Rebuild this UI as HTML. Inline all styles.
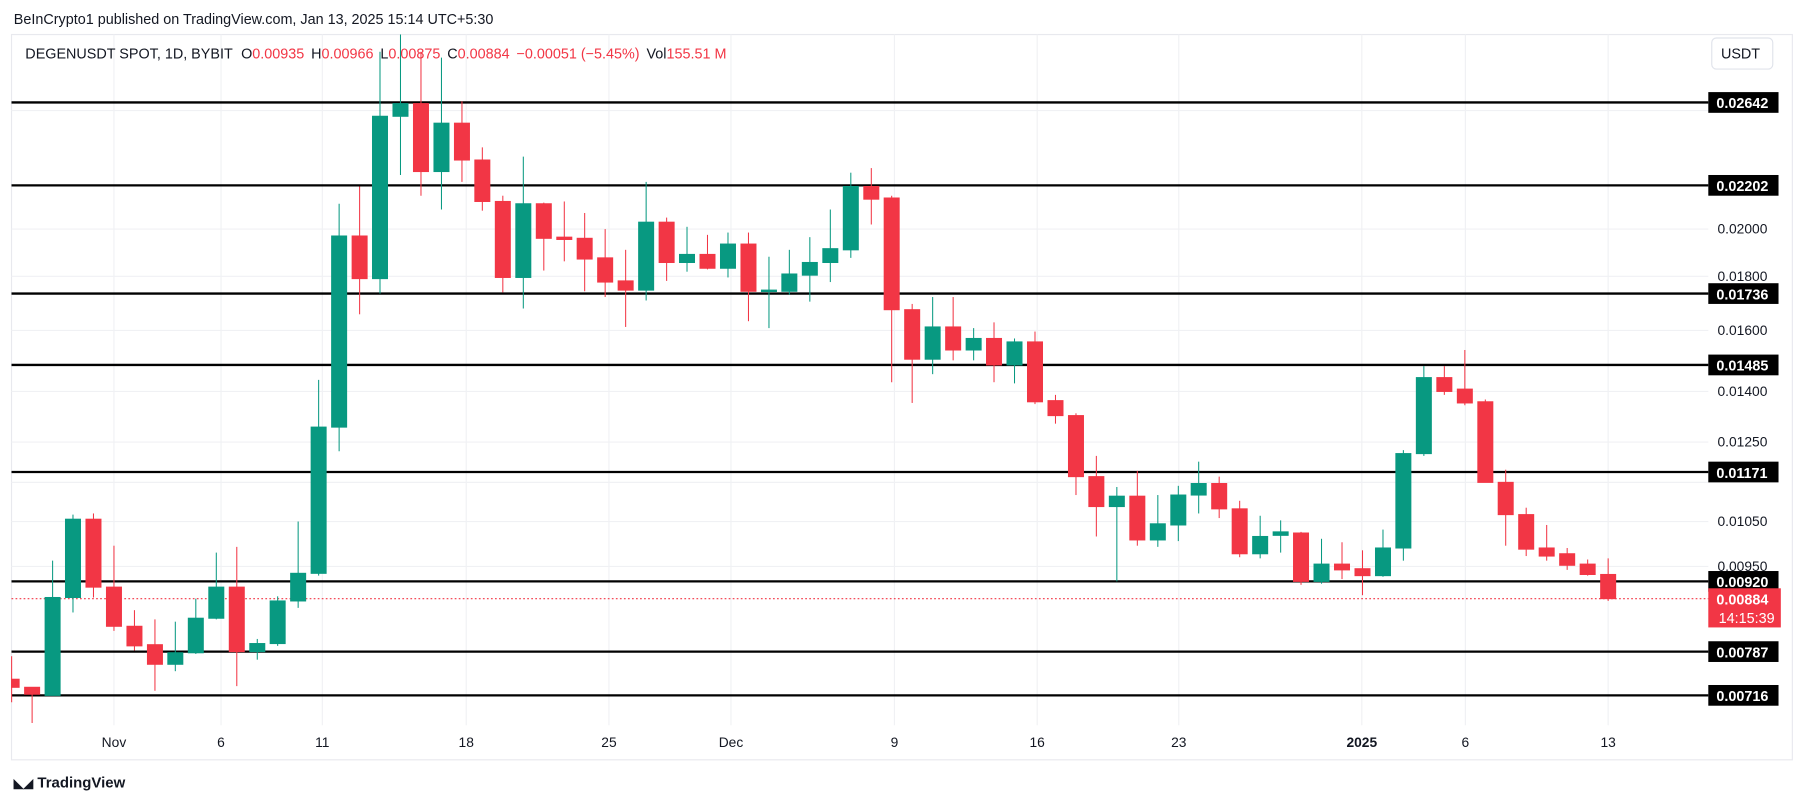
<!DOCTYPE html>
<html><head><meta charset="utf-8"><style>html,body{margin:0;padding:0;background:#fff;overflow:hidden}svg{display:block}</style></head><body>
<svg width="1805" height="803" viewBox="0 0 1568 697.5" preserveAspectRatio="none" xmlns="http://www.w3.org/2000/svg" font-family="Liberation Sans, sans-serif">
<rect width="1568" height="697.5" fill="#fff"/>
<text x="12" y="21" font-size="12.5" fill="#131722">BeInCrypto1 published on TradingView.com, Jan 13, 2025 15:14 UTC+5:30</text>
<rect x="10" y="30" width="1547" height="630" fill="none" stroke="#e8e9ee" stroke-width="1"/>
<g stroke="#f0f1f4" stroke-width="1">
<line x1="99" y1="30" x2="99" y2="630"/><line x1="192" y1="30" x2="192" y2="630"/><line x1="280" y1="30" x2="280" y2="630"/><line x1="405" y1="30" x2="405" y2="630"/><line x1="529" y1="30" x2="529" y2="630"/><line x1="635" y1="30" x2="635" y2="630"/><line x1="777" y1="30" x2="777" y2="630"/><line x1="901" y1="30" x2="901" y2="630"/><line x1="1024" y1="30" x2="1024" y2="630"/><line x1="1183" y1="30" x2="1183" y2="630"/><line x1="1273" y1="30" x2="1273" y2="630"/><line x1="1397" y1="30" x2="1397" y2="630"/>
<line x1="10" y1="96" x2="1484" y2="96"/><line x1="10" y1="199" x2="1484" y2="199"/><line x1="10" y1="240" x2="1484" y2="240"/><line x1="10" y1="287" x2="1484" y2="287"/><line x1="10" y1="340" x2="1484" y2="340"/><line x1="10" y1="384" x2="1484" y2="384"/><line x1="10" y1="419" x2="1484" y2="419"/><line x1="10" y1="453" x2="1484" y2="453"/><line x1="10" y1="492" x2="1484" y2="492"/>
</g>
<text x="22" y="51" font-size="12.5" fill="#131722">DEGENUSDT SPOT, 1D, BYBIT <tspan dx="4">O</tspan><tspan fill="#f23645">0.00935</tspan><tspan dx="6">H</tspan><tspan fill="#f23645">0.00966</tspan><tspan dx="6">L</tspan><tspan fill="#f23645">0.00875</tspan><tspan dx="6">C</tspan><tspan fill="#f23645">0.00884</tspan><tspan dx="6" fill="#f23645">−0.00051 (−5.45%)</tspan><tspan dx="6">Vol</tspan><tspan fill="#f23645">155.51 M</tspan></text>
<rect x="1487" y="33" width="53" height="27" rx="4" fill="#fff" stroke="#e0e3eb"/>
<text x="1495" y="51" font-size="12.5" fill="#131722">USDT</text>
<g stroke="#000" stroke-width="2">
<line x1="10" y1="89" x2="1484" y2="89"/><line x1="10" y1="161" x2="1484" y2="161"/><line x1="10" y1="255" x2="1484" y2="255"/><line x1="10" y1="317" x2="1484" y2="317"/><line x1="10" y1="410" x2="1484" y2="410"/><line x1="10" y1="505" x2="1484" y2="505"/><line x1="10" y1="566" x2="1484" y2="566"/><line x1="10" y1="604" x2="1484" y2="604"/>
</g>
<line x1="10" y1="520" x2="1484" y2="520" stroke="#f23645" stroke-width="1" stroke-dasharray="1.5,2"/>
<g font-size="12" fill="#131722">
<text x="1492" y="203">0.02000</text><text x="1492" y="244">0.01800</text><text x="1492" y="291">0.01600</text><text x="1492" y="344">0.01400</text><text x="1492" y="388">0.01250</text><text x="1492" y="457">0.01050</text><text x="1492" y="496">0.00950</text>
</g>
<g font-size="12.5" font-weight="bold" fill="#fff">
<rect x="1484" y="80" width="61" height="18" fill="#000"/><text x="1491" y="94">0.02642</text>
<rect x="1484" y="152" width="61" height="18" fill="#000"/><text x="1491" y="166">0.02202</text>
<rect x="1484" y="246" width="61" height="18" fill="#000"/><text x="1491" y="260">0.01736</text>
<rect x="1484" y="308" width="61" height="18" fill="#000"/><text x="1491" y="322">0.01485</text>
<rect x="1484" y="401" width="61" height="18" fill="#000"/><text x="1491" y="415">0.01171</text>
<rect x="1484" y="496" width="61" height="18" fill="#000"/><text x="1491" y="510">0.00920</text>
<rect x="1484" y="557" width="61" height="18" fill="#000"/><text x="1491" y="571">0.00787</text>
<rect x="1484" y="595" width="61" height="18" fill="#000"/><text x="1491" y="609">0.00716</text>
<rect x="1484" y="511" width="63" height="34" fill="#f23645"/><text x="1491" y="525">0.00884</text><text x="1493" y="541" font-weight="normal">14:15:39</text>
</g>
<g font-size="12" fill="#131722" text-anchor="middle">
<text x="99" y="649">Nov</text><text x="192" y="649">6</text><text x="280" y="649">11</text><text x="405" y="649">18</text><text x="529" y="649">25</text><text x="635" y="649">Dec</text><text x="777" y="649">9</text><text x="901" y="649">16</text><text x="1024" y="649">23</text><text x="1183" y="649" font-weight="bold">2025</text><text x="1273" y="649">6</text><text x="1397" y="649">13</text>
</g>
<text x="12" y="684" font-size="13" font-weight="bold" fill="#131722"><tspan font-size="11">◣◢</tspan> TradingView</text>
<g stroke-width="0.9">
<g stroke="#f23645" fill="#f23645">
<line x1="10.1" y1="570" x2="10.1" y2="610"/><rect x="10" y="590" width="6.6" height="7"/>
<line x1="27.9" y1="597" x2="27.9" y2="628"/><rect x="21.4" y="597" width="13" height="6"/>
<line x1="81.2" y1="446" x2="81.2" y2="519"/><rect x="74.7" y="451" width="13" height="59"/>
<line x1="99" y1="474" x2="99" y2="548"/><rect x="92.5" y="510" width="13" height="34"/>
<line x1="116.8" y1="530" x2="116.8" y2="565"/><rect x="110.3" y="544" width="13" height="17"/>
<line x1="134.6" y1="538" x2="134.6" y2="600"/><rect x="128.1" y="560" width="13" height="17"/>
<line x1="205.7" y1="475" x2="205.7" y2="596"/><rect x="199.2" y="510" width="13" height="56"/>
<line x1="312.4" y1="162" x2="312.4" y2="273"/><rect x="305.9" y="205" width="13" height="37"/>
<line x1="365.7" y1="45" x2="365.7" y2="170"/><rect x="359.2" y="90" width="13" height="59"/>
<line x1="401.3" y1="88" x2="401.3" y2="158"/><rect x="394.8" y="107" width="13" height="32"/>
<line x1="419" y1="128" x2="419" y2="183"/><rect x="412.5" y="139" width="13" height="36"/>
<line x1="436.8" y1="170" x2="436.8" y2="254"/><rect x="430.3" y="175" width="13" height="66"/>
<line x1="472.4" y1="176" x2="472.4" y2="235"/><rect x="465.9" y="177" width="13" height="30"/>
<line x1="490.2" y1="175" x2="490.2" y2="227"/><rect x="483.7" y="206" width="13" height="2"/>
<line x1="507.9" y1="185" x2="507.9" y2="253"/><rect x="501.4" y="207" width="13" height="18"/>
<line x1="525.7" y1="199" x2="525.7" y2="258"/><rect x="519.2" y="224" width="13" height="21"/>
<line x1="543.5" y1="217" x2="543.5" y2="284"/><rect x="537" y="244" width="13" height="8"/>
<line x1="579.1" y1="189" x2="579.1" y2="244"/><rect x="572.6" y="193" width="13" height="35"/>
<line x1="614.6" y1="204" x2="614.6" y2="234"/><rect x="608.1" y="221" width="13" height="12"/>
<line x1="650.2" y1="202" x2="650.2" y2="279"/><rect x="643.7" y="212" width="13" height="41"/>
<line x1="756.9" y1="146" x2="756.9" y2="195"/><rect x="750.4" y="162" width="13" height="11"/>
<line x1="774.6" y1="170" x2="774.6" y2="332"/><rect x="768.1" y="172" width="13" height="97"/>
<line x1="792.4" y1="264" x2="792.4" y2="350"/><rect x="785.9" y="269" width="13" height="43"/>
<line x1="828" y1="258" x2="828" y2="313"/><rect x="821.5" y="284" width="13" height="20"/>
<line x1="863.5" y1="280" x2="863.5" y2="332"/><rect x="857" y="294" width="13" height="23"/>
<line x1="899.1" y1="288" x2="899.1" y2="351"/><rect x="892.6" y="297" width="13" height="52"/>
<line x1="916.9" y1="343" x2="916.9" y2="368"/><rect x="910.4" y="348" width="13" height="13"/>
<line x1="934.7" y1="359" x2="934.7" y2="430"/><rect x="928.2" y="361" width="13" height="53"/>
<line x1="952.4" y1="396" x2="952.4" y2="466"/><rect x="945.9" y="414" width="13" height="26"/>
<line x1="988" y1="409" x2="988" y2="474"/><rect x="981.5" y="431" width="13" height="38"/>
<line x1="1059.1" y1="414" x2="1059.1" y2="450"/><rect x="1052.6" y="420" width="13" height="22"/>
<line x1="1076.9" y1="435" x2="1076.9" y2="484"/><rect x="1070.4" y="442" width="13" height="39"/>
<line x1="1130.2" y1="462" x2="1130.2" y2="508"/><rect x="1123.7" y="463" width="13" height="42"/>
<line x1="1165.8" y1="471" x2="1165.8" y2="503"/><rect x="1159.3" y="490" width="13" height="5"/>
<line x1="1183.6" y1="478" x2="1183.6" y2="517"/><rect x="1177.1" y="494" width="13" height="6"/>
<line x1="1254.7" y1="318" x2="1254.7" y2="343"/><rect x="1248.2" y="328" width="13" height="12"/>
<line x1="1272.5" y1="304" x2="1272.5" y2="352"/><rect x="1266" y="338" width="13" height="12"/>
<line x1="1290.3" y1="347" x2="1290.3" y2="419"/><rect x="1283.8" y="349" width="13" height="70"/>
<line x1="1308" y1="408" x2="1308" y2="474"/><rect x="1301.5" y="419" width="13" height="28"/>
<line x1="1325.8" y1="441" x2="1325.8" y2="483"/><rect x="1319.3" y="447" width="13" height="30"/>
<line x1="1343.6" y1="456" x2="1343.6" y2="487"/><rect x="1337.1" y="476" width="13" height="7"/>
<line x1="1361.4" y1="476" x2="1361.4" y2="495"/><rect x="1354.9" y="481" width="13" height="10"/>
<line x1="1379.2" y1="486" x2="1379.2" y2="500"/><rect x="1372.7" y="490" width="13" height="9"/>
<line x1="1397" y1="485" x2="1397" y2="522"/><rect x="1390.5" y="499" width="13" height="21"/>
</g>
<g stroke="#089981" fill="#089981">
<line x1="45.7" y1="487" x2="45.7" y2="604"/><rect x="39.2" y="519" width="13" height="85"/>
<line x1="63.4" y1="447" x2="63.4" y2="532"/><rect x="56.9" y="451" width="13" height="68"/>
<line x1="152.3" y1="540" x2="152.3" y2="583"/><rect x="145.8" y="567" width="13" height="10"/>
<line x1="170.1" y1="520" x2="170.1" y2="568"/><rect x="163.6" y="537" width="13" height="30"/>
<line x1="187.9" y1="480" x2="187.9" y2="538"/><rect x="181.4" y="510" width="13" height="27"/>
<line x1="223.5" y1="555" x2="223.5" y2="573"/><rect x="217" y="559" width="13" height="7"/>
<line x1="241.2" y1="518" x2="241.2" y2="561"/><rect x="234.7" y="522" width="13" height="37"/>
<line x1="259" y1="453" x2="259" y2="528"/><rect x="252.5" y="498" width="13" height="24"/>
<line x1="276.8" y1="330" x2="276.8" y2="500"/><rect x="270.3" y="371" width="13" height="127"/>
<line x1="294.6" y1="177" x2="294.6" y2="392"/><rect x="288.1" y="205" width="13" height="166"/>
<line x1="330.1" y1="45" x2="330.1" y2="255"/><rect x="323.6" y="101" width="13" height="141"/>
<line x1="347.9" y1="30" x2="347.9" y2="152"/><rect x="341.4" y="90" width="13" height="11"/>
<line x1="383.5" y1="50" x2="383.5" y2="182"/><rect x="377" y="107" width="13" height="42"/>
<line x1="454.6" y1="136" x2="454.6" y2="268"/><rect x="448.1" y="177" width="13" height="64"/>
<line x1="561.3" y1="158" x2="561.3" y2="261"/><rect x="554.8" y="193" width="13" height="59"/>
<line x1="596.8" y1="197" x2="596.8" y2="236"/><rect x="590.3" y="221" width="13" height="7"/>
<line x1="632.4" y1="202" x2="632.4" y2="241"/><rect x="625.9" y="212" width="13" height="21"/>
<line x1="668" y1="223" x2="668" y2="285"/><rect x="661.5" y="252" width="13" height="1.2"/>
<line x1="685.7" y1="217" x2="685.7" y2="256"/><rect x="679.2" y="238" width="13" height="15"/>
<line x1="703.5" y1="206" x2="703.5" y2="262"/><rect x="697" y="228" width="13" height="11"/>
<line x1="721.3" y1="182" x2="721.3" y2="245"/><rect x="714.8" y="216" width="13" height="12"/>
<line x1="739.1" y1="150" x2="739.1" y2="224"/><rect x="732.6" y="162" width="13" height="55"/>
<line x1="810.2" y1="258" x2="810.2" y2="325"/><rect x="803.7" y="284" width="13" height="28"/>
<line x1="845.8" y1="285" x2="845.8" y2="313"/><rect x="839.3" y="294" width="13" height="10"/>
<line x1="881.3" y1="294" x2="881.3" y2="333"/><rect x="874.8" y="297" width="13" height="20"/>
<line x1="970.2" y1="423" x2="970.2" y2="505"/><rect x="963.7" y="431" width="13" height="9"/>
<line x1="1005.8" y1="430" x2="1005.8" y2="475"/><rect x="999.3" y="455" width="13" height="14"/>
<line x1="1023.6" y1="422" x2="1023.6" y2="470"/><rect x="1017.1" y="430" width="13" height="26"/>
<line x1="1041.3" y1="401" x2="1041.3" y2="446"/><rect x="1034.8" y="420" width="13" height="10"/>
<line x1="1094.7" y1="448" x2="1094.7" y2="485"/><rect x="1088.2" y="466" width="13" height="15"/>
<line x1="1112.5" y1="452" x2="1112.5" y2="480"/><rect x="1106" y="462" width="13" height="3"/>
<line x1="1148" y1="468" x2="1148" y2="507"/><rect x="1141.5" y="490" width="13" height="15"/>
<line x1="1201.4" y1="460" x2="1201.4" y2="501"/><rect x="1194.9" y="476" width="13" height="24"/>
<line x1="1219.1" y1="391" x2="1219.1" y2="487"/><rect x="1212.6" y="394" width="13" height="82"/>
<line x1="1236.9" y1="318" x2="1236.9" y2="396"/><rect x="1230.4" y="328" width="13" height="66"/>
</g>
</g>
</svg>
</body></html>
